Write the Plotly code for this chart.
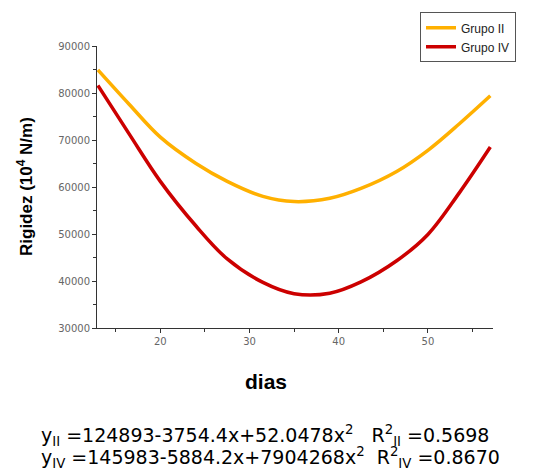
import plotly.graph_objects as go

# data
dias = [13, 16.5, 20, 24, 27.5, 31.5, 35, 39, 42.5, 46.5, 50, 53.5, 57]
grupo_ii = [84900, 77600, 70600, 65000, 61200, 58000, 56900, 57600, 59700, 63300, 67800, 73400, 79400]
grupo_iv = [81600, 71300, 61200, 51700, 44700, 39700, 37300, 37400, 39800, 44300, 49900, 58700, 68500]

font = "Liberation Sans, Arial, sans-serif"
tfont = "DejaVu Sans, sans-serif"

fig = go.Figure()
fig.add_trace(go.Scatter(x=dias, y=grupo_ii, mode="lines", name="Grupo II",
                         line=dict(color="#FFB000", width=3.5, shape="spline")))
fig.add_trace(go.Scatter(x=dias, y=grupo_iv, mode="lines", name="Grupo IV",
                         line=dict(color="#CC0000", width=3.5, shape="spline")))

axis_common = dict(showline=True, linecolor="#333", linewidth=1, ticks="outside",
                   ticklen=4, tickcolor="#333", showgrid=False, zeroline=False,
                   tickformat="d",
                   tickfont=dict(family=tfont, size=10, color="#666"),
                   minor=dict(ticks="outside", ticklen=3, tickcolor="#333"))

fig.update_xaxes(range=[12.9, 57.3], tick0=10, dtick=10,
                 minor_dtick=5, **axis_common)
fig.update_yaxes(range=[30000, 90000], tick0=30000, dtick=10000,
                 minor_dtick=5000, **axis_common)

sp = "&nbsp;"
eq1 = "y<sub>II</sub> =124893-3754.4x+52.0478x<sup>2</sup>" + sp * 3 + "R<sup>2</sup><sub>II</sub> =0.5698"
eq2 = "y<sub>IV</sub> =145983-5884.2x+7904268x<sup>2</sup>" + sp * 2 + "R<sup>2</sup><sub>IV</sub> =0.8670"

fig.update_layout(
    width=536, height=471,
    margin=dict(l=97, r=43, t=43, b=143),
    paper_bgcolor="white", plot_bgcolor="white",
    showlegend=True,
    legend=dict(x=(420 - 97) / 396, y=1 + 34 / 285, xanchor="left", yanchor="top",
                bordercolor="#555", borderwidth=1, bgcolor="white",
                font=dict(family=font, size=12, color="#222"),
                tracegroupgap=0, itemwidth=30),
    annotations=[
        dict(text="<b>Rigidez (10<sup>4</sup> N/m)</b>", xref="paper", yref="paper",
             x=(25 - 97) / 396, y=0.5, xanchor="center", yanchor="middle",
             textangle=-90, showarrow=False,
             font=dict(family=font, size=17, color="black")),
        dict(text="<b>dias</b>", xref="paper", yref="paper",
             x=(266 - 97) / 396, y=(328 - 382) / 285, xanchor="center", yanchor="middle",
             showarrow=False,
             font=dict(family=font, size=21, color="black")),
        dict(text=eq1, xref="paper", yref="paper", x=(39 - 97) / 396, y=(328 - 437) / 285,
             xanchor="left", yanchor="middle", showarrow=False,
             font=dict(family=tfont, size=19, color="black")),
        dict(text=eq2, xref="paper", yref="paper", x=(39 - 97) / 396, y=(328 - 459) / 285,
             xanchor="left", yanchor="middle", showarrow=False,
             font=dict(family=tfont, size=19, color="black")),
    ],
)

fig.write_html("out.html")
